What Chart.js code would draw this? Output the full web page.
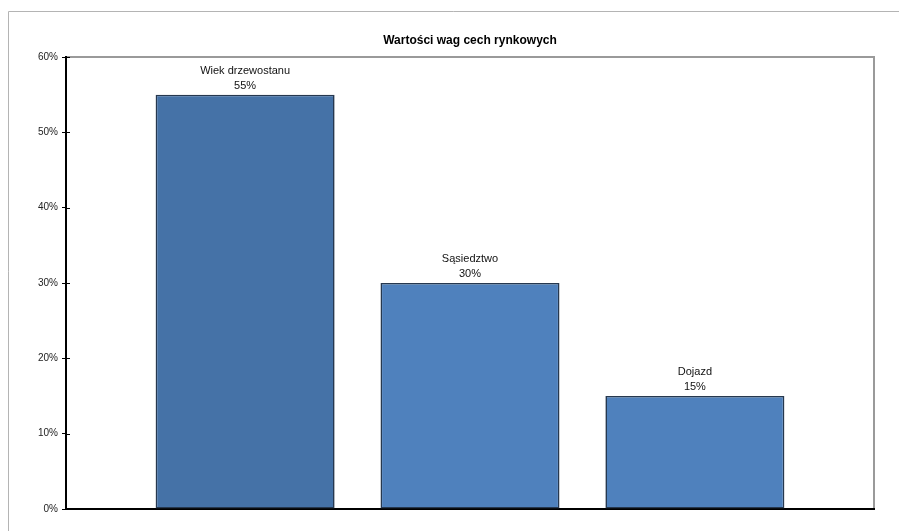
<!DOCTYPE html>
<html>
<head>
<meta charset="utf-8">
<script src="https://cdn.jsdelivr.net/npm/chart.js@4"></script>
<style>
  html, body { margin: 0; padding: 0; background: #fff; }
  #wrap { width: 899px; height: 531px; position: relative; }
</style>
</head>
<body>
<div id="wrap"><canvas id="chart" width="899" height="531"></canvas></div>
<script>
// chart data
const chartTitle = "Wartości wag cech rynkowych";
const categories = ["Wiek drzewostanu", "Sąsiedztwo", "Dojazd"];
const weights = [0.55, 0.30, 0.15];
const barColors = ["#4572A7", "#4F81BD", "#4F81BD"];
const yTicks = [0, 0.1, 0.2, 0.3, 0.4, 0.5, 0.6];

function pct(v) {
  return Math.round(v * 100) + "%";
}

// frame, plot borders and title
const framePlugin = {
  id: "frame",
  beforeDraw(chart) {
    const ctx = chart.ctx;
    const a = chart.chartArea;
    ctx.save();
    ctx.strokeStyle = "#b4b4b4";
    ctx.lineWidth = 1;
    ctx.beginPath();
    ctx.moveTo(8.5, 531);
    ctx.lineTo(8.5, 11.5);
    ctx.lineTo(899, 11.5);
    ctx.stroke();

    ctx.strokeStyle = "#9a9a9a";
    ctx.lineWidth = 2;
    ctx.beginPath();
    ctx.moveTo(a.left, a.top);
    ctx.lineTo(a.right, a.top);
    ctx.lineTo(a.right, a.bottom);
    ctx.stroke();

    ctx.fillStyle = "#000";
    ctx.font = "bold 12px 'Liberation Sans', Arial, sans-serif";
    ctx.textAlign = "center";
    ctx.textBaseline = "alphabetic";
    ctx.fillText(chartTitle, (a.left + a.right) / 2, 44);
    ctx.restore();
  },
  afterDraw(chart) {
    // tick marks crossing the y axis
    const ctx = chart.ctx;
    const y = chart.scales.y;
    ctx.save();
    ctx.strokeStyle = "#000";
    ctx.lineWidth = 1;
    yTicks.forEach((v) => {
      const py = Math.round(y.getPixelForValue(v)) + 0.5;
      ctx.beginPath();
      ctx.moveTo(chart.chartArea.left, py);
      ctx.lineTo(chart.chartArea.left + 4, py);
      ctx.stroke();
    });
    ctx.restore();
  },
};

// category name and value above each bar
const labelPlugin = {
  id: "barLabels",
  afterDatasetsDraw(chart) {
    const ctx = chart.ctx;
    ctx.save();
    ctx.fillStyle = "#111";
    ctx.font = "11px 'Liberation Sans', Arial, sans-serif";
    ctx.textAlign = "center";
    ctx.textBaseline = "alphabetic";
    chart.data.datasets.forEach((ds, i) => {
      const bar = chart.getDatasetMeta(i).data[0];
      ctx.fillText(ds.label, bar.x, bar.y - 21);
      ctx.fillText(pct(ds.data[0]), bar.x, bar.y - 6);
    });
    ctx.restore();
  },
};

const datasets = categories.map((name, i) => ({
  label: name,
  data: [weights[i]],
  backgroundColor: barColors[i],
  borderColor: "#26384F",
  borderWidth: 1.6,
  borderSkipped: false,
  categoryPercentage: 0.835,
  barPercentage: 0.796,
}));

new Chart(document.getElementById("chart"), {
  type: "bar",
  data: { labels: [""], datasets: datasets },
  options: {
    responsive: false,
    animation: false,
    layout: { padding: { left: 8, right: 25, top: 57, bottom: 22 } },
    plugins: {
      legend: { display: false },
      title: { display: false },
      tooltip: { enabled: false },
    },
    scales: {
      x: {
        grid: { display: false },
        ticks: { display: false },
        border: { color: "#000", width: 2 },
        afterFit(scale) {
          scale.height = 0;
        },
      },
      y: {
        min: 0,
        max: 0.6,
        afterBuildTicks(scale) {
          scale.ticks = yTicks.map((v) => ({ value: v }));
        },
        ticks: {
          callback: (v) => pct(v),
          color: "#222",
          padding: 4,
          font: { family: "'Liberation Sans', Arial, sans-serif", size: 10 },
        },
        grid: {
          drawOnChartArea: false,
          drawTicks: true,
          tickLength: 4,
          color: "#000",
        },
        border: { color: "#000", width: 2 },
        afterFit(scale) {
          scale.width = 58;
        },
      },
    },
  },
  plugins: [framePlugin, labelPlugin],
});
</script>
</body>
</html>
